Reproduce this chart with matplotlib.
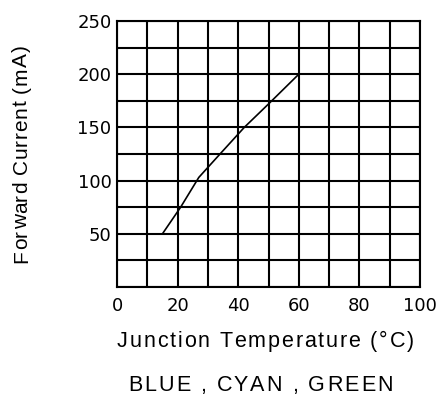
import numpy as np
import matplotlib.pyplot as plt
from matplotlib.font_manager import FontProperties, findfont
from matplotlib.ft2font import FT2Font

# curve
temp_c = [15, 21, 27, 34, 42, 50, 60]
current_ma = [50, 75, 103, 125, 150, 172, 200]

x_ticks = [0, 20, 40, 60, 80, 100]
y_ticks = [50, 100, 150, 200, 250]

W, H = 440, 395
DPI = 100


def advances(text, prop):
    """Per-character advance widths in pixels."""
    font = FT2Font(findfont(prop))
    font.set_size(prop.get_size_in_points(), DPI)
    return [font.load_char(ord(c)).linearHoriAdvance / 65536 for c in text]


def spaced_text(fig, text, x0, y0, width, prop, vertical=False):
    """Draw text letter by letter so it spans `width` pixels."""
    adv = advances(text, prop)
    gap = (width - sum(adv)) / (len(text) - 1)
    pos = 0.0
    for c, a in zip(text, adv):
        if vertical:
            fx, fy = x0 / W, (H - (y0 - pos)) / H
            fig.text(fx, fy, c, fontproperties=prop, rotation=90,
                     rotation_mode="anchor", ha="left", va="baseline")
        else:
            fx, fy = (x0 + pos) / W, (H - y0) / H
            fig.text(fx, fy, c, fontproperties=prop, ha="left", va="baseline")
        pos += a + gap


fig = plt.figure(figsize=(W / DPI, H / DPI), dpi=DPI)
ax = fig.add_axes([117 / W, (H - 287) / H, 303 / W, 266 / H])

ax.plot(temp_c, current_ma, color="black", linewidth=1.2)

ax.set_xlim(0, 100)
ax.set_ylim(0, 250)
ax.set_xticks(np.arange(0, 101, 10), minor=True)
ax.set_yticks(np.arange(0, 251, 25), minor=True)
ax.set_xticks(x_ticks)
ax.set_yticks(y_ticks)
ax.set_xticklabels([str(v) for v in x_ticks], fontsize=13, family="DejaVu Sans")
ax.set_yticklabels([str(v) for v in y_ticks], fontsize=13, family="DejaVu Sans",
                   va="center_baseline")
ax.tick_params(which="both", length=0)
ax.tick_params(axis="x", pad=7)
ax.tick_params(axis="y", pad=4)
ax.grid(which="both", color="black", linewidth=1.5)
for s in ax.spines.values():
    s.set_linewidth(1.5)

label_font = FontProperties(family="Liberation Sans", size=15.5)
side_font = FontProperties(family="Liberation Sans", size=15)

spaced_text(fig, "Junction Temperature (°C)", 117, 347, 297, label_font)
spaced_text(fig, "BLUE , CYAN , GREEN", 128, 391, 265, label_font)
spaced_text(fig, "Forward Current (mA)", 27, 263, 218, side_font, vertical=True)

fig.savefig("out.png", dpi=DPI)
